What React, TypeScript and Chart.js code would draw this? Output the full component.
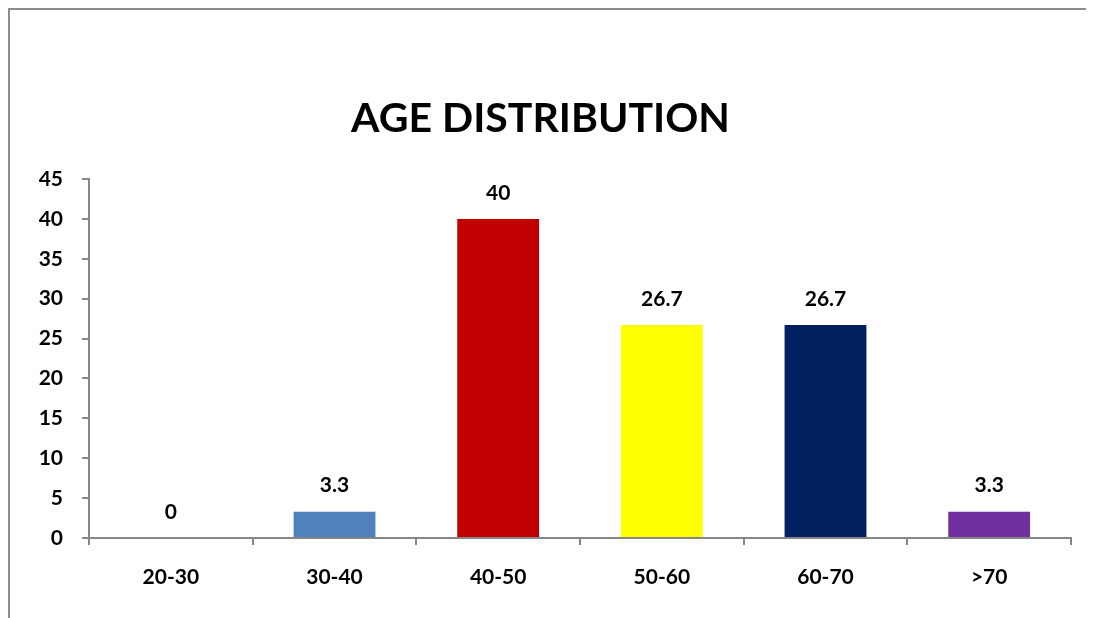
import React, { useEffect, useRef } from "react";
import { Chart, registerables } from "chart.js";

Chart.register(...registerables);

const categories: string[] = ["20-30", "30-40", "40-50", "50-60", "60-70", ">70"];
const values: number[] = [0, 3.3, 40, 26.7, 26.7, 3.3];
const barColors: string[] = ["#4F81BD", "#4F81BD", "#C00000", "#FFFF00", "#002060", "#7030A0"];
const yTicks: number[] = [0, 5, 10, 15, 20, 25, 30, 35, 40, 45];
const titleText = "AGE DISTRIBUTION";

const FONT = "Lato, 'Open Sans', sans-serif";
const AXIS_COLOR = "#868686";

const valueLabels = {
  id: "valueLabels",
  afterDatasetsDraw(chart: any) {
    const { ctx } = chart;
    const meta = chart.getDatasetMeta(0);
    ctx.save();
    ctx.font = `bold 21px ${FONT}`;
    ctx.fillStyle = "#000000";
    ctx.textAlign = "center";
    ctx.textBaseline = "middle";
    meta.data.forEach((bar: any, i: number) => {
      const v = values[i];
      ctx.fillText(String(v), bar.x, bar.y - 26);
    });
    ctx.restore();
  },
};

export default function App() {
  const canvasRef = useRef<HTMLCanvasElement | null>(null);

  useEffect(() => {
    document.body.style.overflow = "hidden";
    const canvas = canvasRef.current;
    if (!canvas) return;
    const chart = new Chart(canvas, {
      type: "bar",
      data: {
        labels: categories,
        datasets: [
          {
            data: values,
            backgroundColor: barColors,
            borderWidth: 0,
            barPercentage: 0.5,
            categoryPercentage: 1,
          },
        ],
      },
      options: {
        animation: false,
        responsive: false,
        maintainAspectRatio: false,
        layout: { padding: { left: 0, right: 23, top: 0, bottom: 0 } },
        plugins: {
          legend: { display: false },
          tooltip: { enabled: false },
          title: {
            display: true,
            text: titleText,
            color: "#000000",
            font: { family: FONT, size: 41, weight: "bold" },
            padding: { top: 84.4, bottom: 35.4 },
          },
        },
        scales: {
          x: {
            grid: {
              display: true,
              drawOnChartArea: false,
              drawTicks: true,
              tickLength: 7,
              color: AXIS_COLOR,
              lineWidth: 2,
              offset: true,
            },
            border: { display: true, color: AXIS_COLOR, width: 2 },
            ticks: {
              color: "#000000",
              font: { family: FONT, size: 21, weight: "bold" },
              padding: 20,
              maxRotation: 0,
            },
            afterFit: (s: any) => {
              s.height = 80;
            },
          },
          y: {
            min: 0,
            max: 45,
            afterBuildTicks: (s: any) => {
              s.ticks = yTicks.map((v) => ({ value: v }));
            },
            grid: {
              display: true,
              drawOnChartArea: false,
              drawTicks: true,
              tickLength: 7,
              color: AXIS_COLOR,
              lineWidth: 2,
            },
            border: { display: true, color: AXIS_COLOR, width: 2 },
            ticks: {
              color: "#000000",
              font: { family: FONT, size: 21, weight: "bold" },
              padding: 19,
            },
            afterFit: (s: any) => {
              s.width = 79;
            },
          },
        },
      },
      plugins: [valueLabels],
    });
    return () => chart.destroy();
  }, []);

  return (
    <div
      style={{
        width: 1086,
        height: 610,
        boxSizing: "border-box",
        borderTop: `2px solid #8c8c8c`,
        borderLeft: `2px solid #8c8c8c`,
        background: "#ffffff",
        overflow: "hidden",
      }}
    >
      <canvas ref={canvasRef} width={1084} height={608} style={{ display: "block" }} />
    </div>
  );
}
